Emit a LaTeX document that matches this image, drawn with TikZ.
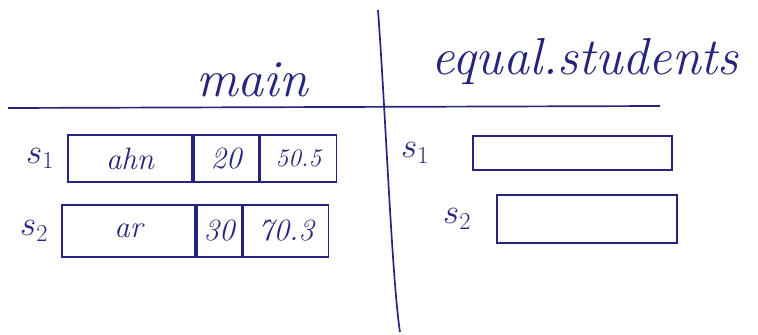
\documentclass[tikz,border=0pt]{standalone}
\usetikzlibrary{positioning}
\definecolor{ink}{RGB}{38,36,125}
\begin{document}
\begin{tikzpicture}[
        x=0.025cm, y=-0.025cm,
        every node/.style={text=ink},
        title/.style={font=\fontsize{37}{39}\selectfont\itshape, anchor=base},
        cell/.style={draw=ink, line width=1.2pt, rectangle, inner sep=0pt, font=\fontsize{22}{24}\selectfont\itshape},
        small cell/.style={cell, font=\fontsize{18}{20}\selectfont\itshape},
        var/.style={font=\fontsize{26}{28}\selectfont},
        rule/.style={draw=ink, line width=1.2pt},
    ]
    % frame of the picture
    \useasboundingbox (0,0) rectangle (758,335);

    % headings and rules
    \node[title](main) at (252,96){main};
    \node[title](equal) at (585,74){equal.students};
    \coordinate (h1) at (8,108);
    \coordinate (h2) at (660,106);
    \coordinate (v1) at (378,10);
    \coordinate (v2) at (400,332);
    \draw[rule] (h1) -- (h2);
    \draw[rule] (v1) .. controls (386,120) and (392,280) .. (v2);

    % main: s1
    \node[cell, minimum width=3.1cm, minimum height=1.175cm](name1) at (130,158.5){ahn};
    \node[cell, minimum width=1.625cm, minimum height=1.175cm, right=0pt of name1](age1){20};
    \node[small cell, minimum width=1.9cm, minimum height=1.175cm, right=0pt of age1](mark1){50.5};
    \node[var, left=0.2cm of name1](s1){$s_1$};

    % main: s2
    \node[cell, minimum width=3.325cm, minimum height=1.3cm](name2) at (128.5,231){ar};
    \node[cell, minimum width=1.125cm, minimum height=1.3cm, right=0pt of name2](age2){30};
    \node[cell, minimum width=2.125cm, minimum height=1.3cm, right=0pt of age2](mark2){70.3};
    \node[var, left=0.2cm of name2](s2){$s_2$};

    % equal.students
    \node[cell, minimum width=4.975cm, minimum height=0.85cm](box1) at (572.5,153){};
    \node[var, left=0.95cm of box1](t1){$s_1$};
    \node[cell, minimum width=4.5cm, minimum height=1.2cm](box2) at (587,219){};
    \node[var, left=0.5cm of box2](t2){$s_2$};

\end{tikzpicture}
\end{document}
